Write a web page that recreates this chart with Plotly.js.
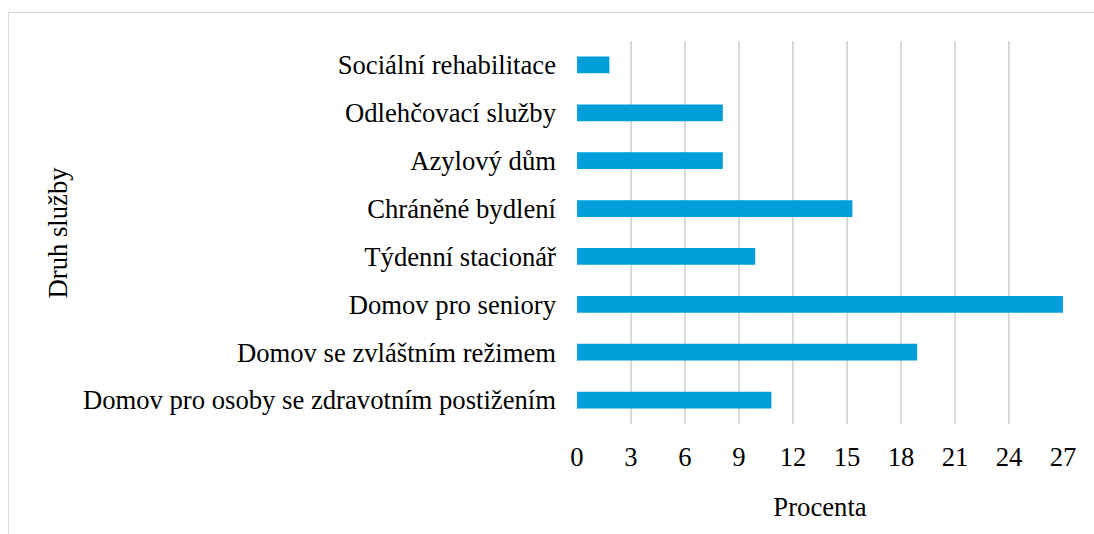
<!DOCTYPE html>
<html>
<head>
<meta charset="utf-8">
<script src="https://cdn.plot.ly/plotly-3.0.1.min.js"></script>
<style>
  html, body { margin: 0; padding: 0; background: #fff; overflow: hidden; }
  #wrap { position: absolute; left: 0; top: 0; width: 1094px; height: 534px; }
  #frame { position: absolute; left: 8px; top: 12px; width: 1200px; height: 600px;
           border-left: 1px solid #d9d9d9; border-top: 1px solid #d9d9d9; pointer-events: none; }
  #chart { position: absolute; left: 0; top: 0; width: 1094px; height: 534px; }
</style>
</head>
<body>
<div id="wrap">
  <div id="chart"></div>
  <div id="frame"></div>
</div>
<script>
const categories = [
  "Domov pro osoby se zdravotním postižením",
  "Domov se zvláštním režimem",
  "Domov pro seniory",
  "Týdenní stacionář",
  "Chráněné bydlení",
  "Azylový dům",
  "Odlehčovací služby",
  "Sociální rehabilitace"
];
const percentValues = [10.8, 18.9, 27.0, 9.9, 15.3, 8.1, 8.1, 1.8];
const xTickValues = [0, 3, 6, 9, 12, 15, 18, 21, 24, 27];
const xAxisTitle = "Procenta";
const yAxisTitle = "Druh služby";

const FONT = "'Liberation Serif', 'Times New Roman', serif";
const FS = 26.67;

const trace = {
  type: 'bar',
  orientation: 'h',
  y: categories,
  x: percentValues,
  width: 0.35,
  marker: { color: '#009fd9', line: { width: 0 } },
  hoverinfo: 'skip'
};

const layout = {
  width: 1094,
  height: 534,
  margin: { l: 577, r: 31, t: 41, b: 110, pad: 0 },
  paper_bgcolor: 'rgba(0,0,0,0)',
  plot_bgcolor: 'rgba(0,0,0,0)',
  showlegend: false,
  font: { family: FONT, size: FS, color: '#000' },
  xaxis: {
    range: [0, 27],
    tickvals: xTickValues,
    ticktext: xTickValues.map(String),
    showgrid: true,
    gridcolor: '#d9d9d9',
    gridwidth: 1.4,
    zeroline: false,
    showline: false,
    ticks: '',
    ticklabelstandoff: 14,
    tickfont: { family: FONT, size: FS, color: '#000' },
    title: { text: xAxisTitle, font: { family: FONT, size: FS, color: '#000' }, standoff: 26 },
    fixedrange: true
  },
  yaxis: {
    type: 'category',
    categoryorder: 'array',
    categoryarray: categories,
    showgrid: false,
    zeroline: false,
    showline: false,
    ticks: '',
    ticklabelstandoff: 20,
    tickfont: { family: FONT, size: FS, color: '#000' },
    fixedrange: true
  },
  annotations: [{
    text: yAxisTitle,
    xref: 'paper', yref: 'paper',
    x: -1.068, y: 0.5,
    xanchor: 'center', yanchor: 'middle',
    textangle: -90,
    showarrow: false,
    font: { family: FONT, size: FS, color: '#000' }
  }]
};

Plotly.newPlot('chart', [trace], layout, { displayModeBar: false, staticPlot: true });
</script>
</body>
</html>
